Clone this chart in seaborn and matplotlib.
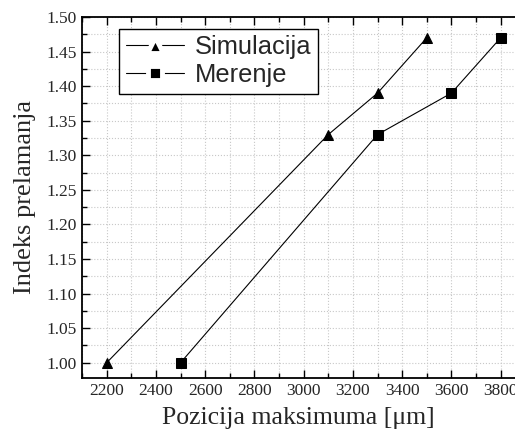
import matplotlib
matplotlib.use("Agg")
import matplotlib.pyplot as plt
import seaborn as sns
import pandas as pd
from matplotlib.ticker import MultipleLocator, FormatStrFormatter
from matplotlib.lines import Line2D

# data
sim_x = [2200, 3100, 3300, 3500]
sim_y = [1.00, 1.33, 1.39, 1.47]
mer_x = [2500, 3300, 3600, 3800]
mer_y = [1.00, 1.33, 1.39, 1.47]

df = pd.concat([
    pd.DataFrame({"x": sim_x, "y": sim_y, "serija": "Simulacija"}),
    pd.DataFrame({"x": mer_x, "y": mer_y, "serija": "Merenje"}),
])

sns.set_style("white")
plt.rcParams["font.family"] = ["Liberation Serif", "DejaVu Serif"]

fig = plt.figure(figsize=(5.15, 4.37), dpi=100)
ax = fig.add_axes([82 / 515, 59 / 437, 433 / 515, 361 / 437])

sns.lineplot(data=df, x="x", y="y", hue="serija", style="serija",
             palette=["black", "black"], markers=["^", "s"], dashes=False,
             markersize=7, linewidth=0.8, markeredgecolor="black",
             sort=False, ax=ax, legend=False)

ax.set_xlim(2100, 3858)
ax.set_ylim(0.978, 1.50)
ax.xaxis.set_major_locator(MultipleLocator(200))
ax.xaxis.set_minor_locator(MultipleLocator(100))
ax.yaxis.set_major_locator(MultipleLocator(0.05))
ax.yaxis.set_minor_locator(MultipleLocator(0.025))
ax.yaxis.set_major_formatter(FormatStrFormatter("%.2f"))

ax.grid(True, which="both", color="#c8c8c8", linestyle=":", linewidth=0.8)
ax.tick_params(which="both", direction="in", top=True, bottom=True,
               left=True, right=False, labelsize=12.5, color="black")
ax.tick_params(which="major", length=6, width=1)
ax.tick_params(which="minor", length=3.5, width=1)
for s in ["left", "top", "bottom"]:
    ax.spines[s].set_linewidth(1.3)
    ax.spines[s].set_color("black")
ax.spines["right"].set_visible(False)

ax.set_xlabel("Pozicija maksimuma [\u03bcm]", fontsize=18.5, labelpad=6)
ax.set_ylabel("Indeks prelamanja", fontsize=19, labelpad=8)

# legend: line - marker - line (white edge leaves a gap round the marker)
h1 = Line2D([], [], color="black", marker="^", markersize=11.5,
            markerfacecolor="black", markeredgecolor="white",
            markeredgewidth=3.5, linewidth=0.8)
h2 = Line2D([], [], color="black", marker="s", markersize=9.5,
            markerfacecolor="black", markeredgecolor="white",
            markeredgewidth=3.5, linewidth=0.8)
leg = ax.legend([h1, h2], ["Simulacija", "Merenje"],
                loc="upper left", bbox_to_anchor=(0.086, 0.967),
                prop={"family": "Liberation Sans", "size": 18.4},
                frameon=True, fancybox=False, edgecolor="black",
                handlelength=2.3, handletextpad=0.4, borderpad=0.25,
                borderaxespad=0, labelspacing=0.15, framealpha=1)
leg.get_frame().set_linewidth(1.0)

fig.savefig("out.png", dpi=100)
